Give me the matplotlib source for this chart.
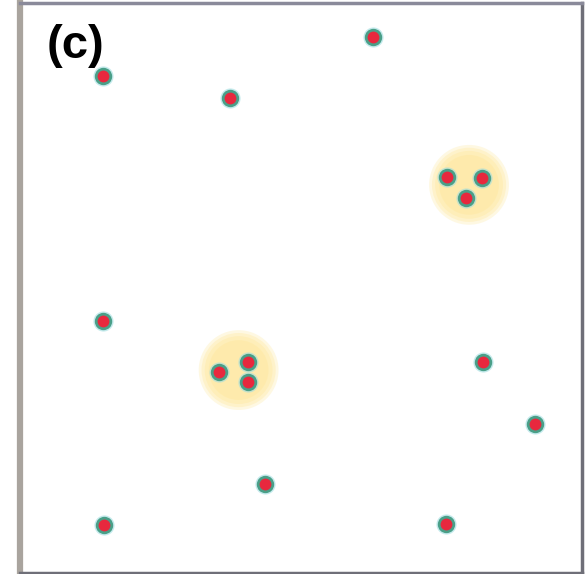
import matplotlib
matplotlib.use("Agg")
import matplotlib.pyplot as plt
from matplotlib.patches import Ellipse

# Point positions (0-100 panel units)
point_x = [14.8, 37.4, 62.8, 76.0, 82.2, 79.4, 14.8, 35.4, 40.6, 40.6, 82.4, 91.6, 43.6, 14.9, 75.8]
point_y = [87.2, 83.3, 94.0, 69.5, 69.3, 65.8, 44.2, 35.3, 37.0, 33.5, 37.0, 26.1, 15.6, 8.4, 8.6]

# Cluster halos (centres and radius, panel units)
cluster_x = [38.9, 79.9]
cluster_y = [35.6, 68.1]
cluster_r = [7.1, 7.1]

panel_label = "(c)"

fig = plt.figure(figsize=(5.88, 5.74), dpi=100)
ax = fig.add_axes([20 / 588, 1 / 574, 562 / 588, 570 / 574])
ax.set_xlim(0, 100)
ax.set_ylim(0, 100)
ax.set_xticks([])
ax.set_yticks([])

# fuzzy yellow halos
for cx, cy, r in zip(cluster_x, cluster_y, cluster_r):
    for k, a in [(1.0, 0.3), (0.93, 0.35), (0.85, 0.4), (0.75, 0.5)]:
        ax.add_patch(Ellipse((cx, cy), 2 * r * k, 2 * r * k * 562 / 570,
                             facecolor="#fee8a0", edgecolor="none", alpha=a, zorder=1))

ax.plot(point_x, point_y, "o", ls="none", ms=14.5, color="#9fdde0", mec="none", alpha=0.6, zorder=2)
ax.plot(point_x, point_y, "o", ls="none", ms=12.5, color="#4a9f88", mec="none", zorder=3)
ax.plot(point_x, point_y, "o", ls="none", ms=8.5, color="#e8283e", mec="none", zorder=4)

ax.text(0.0996, 0.925, panel_label, transform=ax.transAxes, ha="center", va="center",
        fontsize=34, fontweight="bold", family=["Liberation Sans", "DejaVu Sans"], zorder=5)

for side, sp in ax.spines.items():
    sp.set_color("#6f6f78")
    sp.set_linewidth(2.5)
ax.spines["left"].set_color("#a9a49e")
ax.spines["left"].set_linewidth(4.5)
ax.spines["top"].set_color("#8a8a9a")

fig.savefig("out.png", dpi=100)
